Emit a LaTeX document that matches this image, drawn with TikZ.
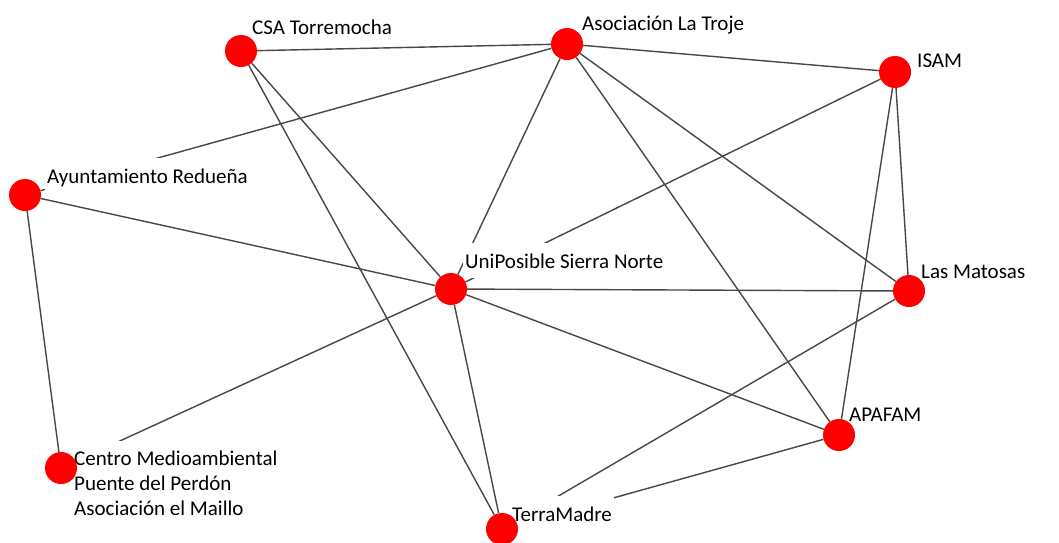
\documentclass[tikz,border=0pt]{standalone}
\usepackage{fontspec}
\setmainfont{Carlito}
\usetikzlibrary{positioning}
\pgfdeclarelayer{background}
\pgfsetlayers{background,main}

\begin{document}
\begin{tikzpicture}[x=1pt, y=-1pt,
actor/.style={circle, fill=red, minimum size=32pt, inner sep=0pt},
link/.style={draw=black!72, line width=1.4pt},
tag/.style={font=\fontsize{21}{25}\selectfont, inner xsep=2pt, inner ysep=2pt, anchor=base west},
tagbox/.style={tag, fill=white, inner ysep=10pt}
]
\useasboundingbox (0,0) rectangle (1059,542);

% names
\node[tag]    (csaname)     at (250,34)  {CSA Torremocha};
\node[tag]    (trojename)   at (580,30)  {Asociación La Troje};
\node[tag]    (isamname)    at (915,67)  {ISAM};
\node[tag]    (matosasname) at (919,278) {Las Matosas};
\node[tag]    (apafamname)  at (847,421) {APAFAM};
\node[tagbox] (aytoname)    at (45,183)  {Ayuntamiento Redueña};
\node[tagbox] (uniname)     at (463,268) {UniPosible Sierra Norte};
\node[tagbox] (terraname)   at (510,521) {TerraMadre};
\node[tagbox, anchor=north west, align=left] (centroname) at (72,441)
  {Centro Medioambiental\\Puente del Perdón\\Asociación el Maillo};

% entities
\node[actor] (csa)     at (241,51)  {};
\node[actor] (troje)   at (567,44)  {};
\node[actor] (isam)    at (895,72)  {};
\node[actor] (ayto)    at (25,195)  {};
\node[actor] (uni)     at (451,289) {};
\node[actor] (matosas) at (909,291) {};
\node[actor] (apafam)  at (839,435) {};
\node[actor] (centro)  at (61,468)  {};
\node[actor] (terra)   at (502,529) {};

% relations
\begin{pgfonlayer}{background}
\path[link] (csa) edge (troje) edge (uni) edge (terra);
\path[link] (troje) edge (isam) edge (ayto) edge (uni) edge (matosas) edge (apafam);
\path[link] (isam) edge (uni) edge (matosas) edge (apafam);
\path[link] (ayto) edge (uni) edge (centro);
\path[link] (uni) edge (matosas) edge (apafam) edge (terra) edge (centro);
\path[link] (matosas) edge (terra);
\path[link] (apafam) edge (terra);
\end{pgfonlayer}
\end{tikzpicture}
\end{document}
